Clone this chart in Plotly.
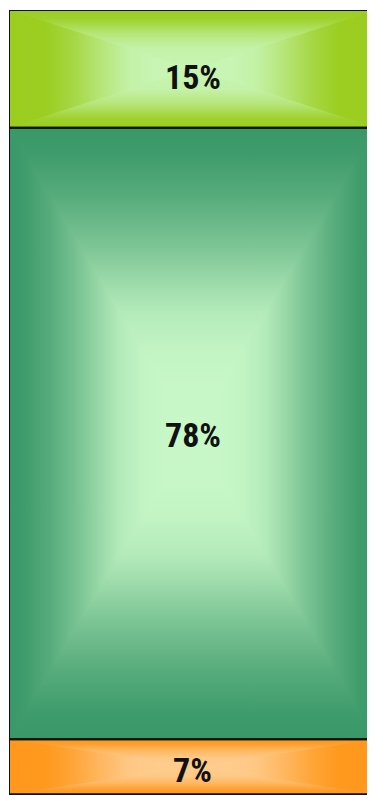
import plotly.graph_objects as go

# Segments, stacked from the bottom up
segments = ["Orange", "Green", "Lime"]
shares = [7, 78, 15]
labels = ["7%", "78%", "15%"]
edge_colors = ["#ff981c", "#3a9868", "#9acd1e"]
center_colors = ["#ffcc8e", "#c8f8c8", "#c8f5b4"]

# colour ramps from the edge (0) to the middle (1) of a block
RAMP_TALL = [(0.0, 0.0), (0.08, 0.03), (0.22, 0.2), (0.39, 0.47), (0.5, 0.68),
             (0.6, 0.85), (0.72, 0.95), (0.85, 0.99), (1.0, 1.0)]
RAMP_SIDE_SHORT = [(0.0, 0.0), (0.2, 0.02), (0.35, 0.25), (0.5, 0.6), (0.65, 0.9), (0.8, 1.0), (1.0, 1.0)]
RAMP_END_SHORT = [(0.0, 0.0), (0.15, 0.1), (0.4, 0.6), (0.65, 0.92), (1.0, 1.0)]
side_ramps = [RAMP_SIDE_SHORT, RAMP_TALL, RAMP_SIDE_SHORT]
end_ramps = [RAMP_END_SHORT, RAMP_TALL, RAMP_END_SHORT]
label_shift = [-3, -2, -8]


def blend(c1, c2, t):
    a = [int(c1[i:i + 2], 16) for i in (1, 3, 5)]
    b = [int(c2[i:i + 2], 16) for i in (1, 3, 5)]
    return "rgb(%d,%d,%d)" % tuple(round(a[k] + (b[k] - a[k]) * t) for k in range(3))


def make_scale(stops, edge, center, reverse=False):
    scale = [[p, blend(edge, center, t)] for p, t in stops]
    if reverse:
        scale = [[1 - p, c] for p, c in scale][::-1]
    return scale


fig = go.Figure()
shapes = []
annotations = []
bottom = 0
x0, x1 = 0.0, 1.0
cx = (x0 + x1) / 2
for i, (name, share, label) in enumerate(zip(segments, shares, labels)):
    edge, center = edge_colors[i], center_colors[i]
    side, end = side_ramps[i], end_ramps[i]
    y0, y1 = bottom, bottom + share
    cy = (y0 + y1) / 2
    # left/right halves first (full height, no gaps), then top/bottom wedges over them
    parts = [
        ([x0, cx, cx, x0, x0], [y0, y0, y1, y1, y0], "horizontal", x0, cx, make_scale(side, edge, center)),
        ([cx, x1, x1, cx, cx], [y0, y0, y1, y1, y0], "horizontal", cx, x1, make_scale(side, edge, center, True)),
        ([x0, x1, cx, x0], [y0, y0, cy, y0], "vertical", y0, cy, make_scale(end, edge, center)),
        ([x0, x1, cx, x0], [y1, y1, cy, y1], "vertical", cy, y1, make_scale(end, edge, center, True)),
    ]
    for xs, ys, kind, start, stop, scale in parts:
        fig.add_trace(go.Scatter(
            x=xs, y=ys, mode="lines", fill="toself", name=name,
            line=dict(width=0),
            fillgradient=dict(type=kind, start=start, stop=stop, colorscale=scale),
            hoverinfo="skip", showlegend=False,
        ))
    shapes.append(dict(type="rect", x0=x0, x1=x1, y0=y0, y1=y1, layer="above",
                       line=dict(color="#111111", width=2), fillcolor="rgba(0,0,0,0)"))
    annotations.append(dict(x=cx, y=cy, text="<b>%s</b>" % label, showarrow=False,
                            yshift=label_shift[i],
                            font=dict(family="Roboto Condensed, Roboto",
                                      size=34, color="#111111")))
    bottom = y1

# the page has an 8px body margin, so the figure is sized to end at the window edge
fig.update_layout(
    width=367, height=787,
    margin=dict(l=1, r=0, t=2, b=0),
    paper_bgcolor="white", plot_bgcolor="white",
    xaxis=dict(range=[0, 0.997], visible=False, fixedrange=True),
    yaxis=dict(range=[-0.1, 100], visible=False, fixedrange=True),
    shapes=shapes, annotations=annotations,
    showlegend=False,
)

fig.write_html("out.html", config=dict(displayModeBar=False))
